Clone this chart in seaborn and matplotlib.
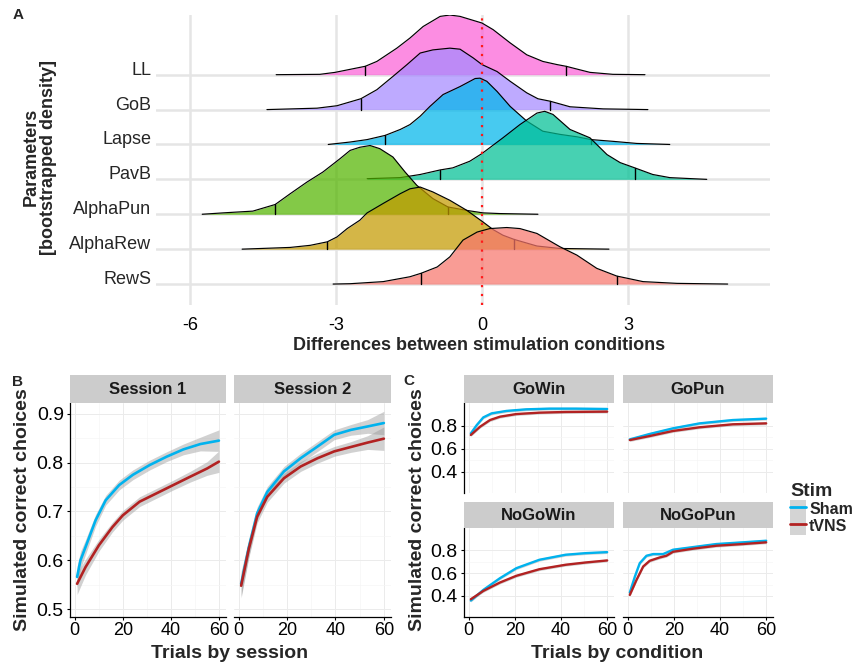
import numpy as np
import pandas as pd
import matplotlib
matplotlib.use('Agg')
import matplotlib.pyplot as plt
import matplotlib.transforms as mtransforms
from matplotlib.patches import Patch
from matplotlib.lines import Line2D
import seaborn as sns

sns.set_theme(style='white')
plt.rcParams['font.family'] = ['Liberation Sans', 'DejaVu Sans']
plt.rcParams['axes.unicode_minus'] = False

# ---- panel A: bootstrapped densities (ridge heights) ----
params = ['RewS', 'AlphaRew', 'AlphaPun', 'PavB', 'Lapse', 'GoB', 'LL']
ridge_colors = ['#F8766D', '#C49A00', '#53B400', '#00C094', '#00B6EB', '#A58AFF', '#FB61D7']

rews_x = [-3.06, -2.71, -2.03, -1.48, -1.25, -0.92, -0.66, -0.39, -0.10, 0.16, 0.51, 0.78, 1.13, 1.60, 1.95, 2.36, 2.77, 3.31, 4.01, 5.05]
rews_h = [0, 0.01, 0.07, 0.21, 0.31, 0.49, 0.78, 1.26, 1.49, 1.59, 1.62, 1.59, 1.45, 1.07, 0.83, 0.45, 0.23, 0.07, 0.02, 0]
alpharew_x = [-4.93, -3.94, -3.53, -3.18, -2.98, -2.77, -2.51, -2.36, -2.03, -1.68, -1.48, -1.27, -1.01, -0.66, -0.31, 0.02, 0.23, 0.43, 0.66, 1.13, 1.60, 2.61]
alpharew_h = [0, 0.05, 0.11, 0.21, 0.35, 0.59, 0.83, 1.04, 1.31, 1.59, 1.73, 1.78, 1.64, 1.40, 1.11, 0.78, 0.56, 0.40, 0.28, 0.09, 0.02, 0]
alphapun_x = [-5.75, -5.32, -4.71, -4.25, -3.94, -3.60, -3.27, -2.92, -2.71, -2.51, -2.30, -2.10, -1.83, -1.58, -1.34, -1.01, -0.70, -0.31, 0.02, 0.37, 1.15]
alphapun_h = [0, 0.04, 0.09, 0.28, 0.59, 0.92, 1.21, 1.59, 1.83, 1.92, 1.97, 1.88, 1.64, 1.21, 0.83, 0.45, 0.21, 0.11, 0.04, 0.02, 0]
pavb_x = [-2.36, -1.68, -1.27, -0.86, -0.60, -0.25, 0.0, 0.43, 0.78, 1.13, 1.29, 1.46, 1.81, 2.22, 2.57, 2.84, 3.14, 3.51, 3.86, 4.62]
pavb_h = [0.02, 0.05, 0.14, 0.27, 0.33, 0.52, 0.74, 1.19, 1.57, 1.90, 1.95, 1.86, 1.43, 1.19, 0.71, 0.48, 0.33, 0.14, 0.05, 0]
lapse_x = [-3.16, -2.71, -2.36, -1.99, -1.68, -1.48, -1.27, -1.07, -0.80, -0.45, -0.14, -0.04, 0.10, 0.31, 0.58, 0.92, 1.25, 1.60, 1.95, 2.24, 2.69, 3.18, 3.86]
lapse_h = [0, 0.07, 0.14, 0.26, 0.43, 0.57, 0.81, 1.09, 1.43, 1.66, 1.89, 1.90, 1.81, 1.52, 1.09, 0.67, 0.38, 0.29, 0.22, 0.14, 0.09, 0.03, 0]
gob_x = [-4.42, -3.39, -2.98, -2.49, -2.16, -1.83, -1.54, -1.27, -1.01, -0.66, -0.45, -0.18, 0.0, 0.31, 0.58, 0.92, 1.15, 1.40, 1.81, 2.49, 3.41]
gob_h = [0, 0.04, 0.11, 0.31, 0.57, 0.95, 1.29, 1.62, 1.71, 1.76, 1.73, 1.48, 1.29, 1.09, 0.81, 0.48, 0.31, 0.24, 0.08, 0.02, 0]
ll_x = [-4.23, -3.33, -3.02, -2.40, -2.16, -1.75, -1.48, -1.21, -0.86, -0.66, -0.45, 0.0, 0.23, 0.58, 0.92, 1.25, 1.54, 1.73, 2.01, 2.22, 2.69, 3.35]
ll_h = [0, 0.01, 0.066, 0.24, 0.38, 0.76, 1.05, 1.38, 1.67, 1.71, 1.67, 1.48, 1.29, 0.91, 0.57, 0.38, 0.29, 0.24, 0.14, 0.066, 0.01, 0]

q_low = [-1.25, -3.18, -4.25, -0.86, -1.99, -2.49, -2.40]
q_high = [2.77, 0.66, -0.70, 3.14, 2.24, 1.40, 1.73]

# ---- panel B: simulated correct choices by session ----
s1_sham_x = [1, 2.4, 4.5, 8.7, 12.9, 18.5, 24.2, 31.2, 38.2, 45.2, 52.3, 60]
s1_sham_y = [0.566, 0.600, 0.627, 0.682, 0.723, 0.754, 0.775, 0.795, 0.812, 0.827, 0.838, 0.845]
s1_sham_ci = [0.022, 0.018, 0.015, 0.012, 0.010, 0.010, 0.010, 0.010, 0.010, 0.011, 0.014, 0.022]
s1_tvns_x = [1, 4.5, 10.1, 15.7, 20, 27, 34, 41, 48, 55.1, 60]
s1_tvns_y = [0.552, 0.586, 0.631, 0.668, 0.692, 0.720, 0.737, 0.754, 0.771, 0.788, 0.802]
s1_tvns_ci = [0.022, 0.016, 0.012, 0.010, 0.010, 0.010, 0.010, 0.010, 0.011, 0.014, 0.022]
s2_x = [1, 4.2, 7.6, 11.8, 18.7, 25.6, 32.6, 39.5, 46.4, 53.3, 60]
s2_sham_y = [0.552, 0.627, 0.696, 0.740, 0.782, 0.809, 0.833, 0.857, 0.867, 0.874, 0.881]
s2_tvns_y = [0.548, 0.624, 0.689, 0.730, 0.768, 0.792, 0.809, 0.823, 0.832, 0.841, 0.849]
s2_ci = [0.025, 0.018, 0.013, 0.011, 0.010, 0.010, 0.010, 0.010, 0.011, 0.014, 0.024]

# ---- panel C: by condition ----
gowin_sham_x = [1, 3.6, 6.4, 10, 16.4, 25, 35, 46.4, 60]
gowin_sham_y = [0.733, 0.806, 0.872, 0.907, 0.928, 0.942, 0.948, 0.948, 0.945]
gowin_tvns_x = [1, 5, 9.3, 13.6, 20.7, 30.7, 42, 60]
gowin_tvns_y = [0.719, 0.791, 0.849, 0.878, 0.901, 0.913, 0.919, 0.922]
gopun_x = [1, 9.6, 19.7, 31.2, 45.6, 60]
gopun_sham_y = [0.681, 0.728, 0.777, 0.820, 0.849, 0.861]
gopun_tvns_y = [0.675, 0.710, 0.754, 0.786, 0.812, 0.820]
nogowin_x = [1, 6.4, 13.6, 20.7, 30.7, 42, 50.7, 60]
nogowin_sham_y = [0.359, 0.453, 0.556, 0.644, 0.718, 0.762, 0.776, 0.785]
nogowin_tvns_y = [0.371, 0.444, 0.518, 0.577, 0.635, 0.674, 0.694, 0.712]
nogopun_sham_x = [1, 3.2, 5.3, 8.2, 11.1, 15.4, 19.7, 28.3, 38.4, 49.9, 60]
nogopun_sham_y = [0.430, 0.571, 0.688, 0.753, 0.768, 0.768, 0.806, 0.829, 0.856, 0.871, 0.885]
nogopun_tvns_x = [1, 3.9, 6.8, 9.6, 13.9, 16.8, 19.7, 28.3, 38.4, 49.9, 60]
nogopun_tvns_y = [0.409, 0.541, 0.659, 0.709, 0.738, 0.753, 0.788, 0.815, 0.841, 0.856, 0.871]
c_ci = 0.012

stim_colors = {'Sham': '#00B2EE', 'tVNS': '#B22222'}

W, H = 856, 664
fig = plt.figure(figsize=(W / 100, H / 100), dpi=100)


def box(l, t, r, b):
    return [l / W, 1 - b / H, (r - l) / W, (b - t) / H]


# ================= panel A =================
axA = fig.add_axes(box(156, 15, 770, 305))
axA.set_xlim(-6.70, 5.92)
axA.set_ylim(0.4, 8.71)
for s in axA.spines.values():
    s.set_visible(False)
axA.set_xticks([-6, -3, 0, 3])
axA.set_yticks([])
axA.tick_params(axis='x', length=0, pad=9, labelsize=13, labelcolor='black')
for xv in [-6, -3, 0, 3]:
    axA.axvline(xv, color='#E5E5E5', lw=1.8, zorder=0)
for i in range(len(params)):
    axA.axhline(i + 1, color='#E5E5E5', lw=1.8, zorder=0)

ridges = [(rews_x, rews_h), (alpharew_x, alpharew_h), (alphapun_x, alphapun_h),
          (pavb_x, pavb_h), (lapse_x, lapse_h), (gob_x, gob_h), (ll_x, ll_h)]
ylab_tr = mtransforms.blended_transform_factory(axA.transAxes, axA.transData)
for i, (name, (xs, hs), col, lo, hi) in enumerate(zip(params, ridges, ridge_colors, q_low, q_high)):
    base = i + 1
    z = 20 - i
    xs = np.array(xs)
    ys = base + np.array(hs)
    axA.fill_between(xs, base, ys, color=col, alpha=0.72, lw=0, zorder=z)
    sns.lineplot(x=xs, y=ys, ax=axA, color='black', lw=0.85, zorder=z)
    for q in (lo, hi):
        axA.plot([q, q], [base, base + np.interp(q, xs, hs)], color='black', lw=1.0, zorder=z)
    axA.text(-0.008, base, name, transform=ylab_tr, ha='right', va='baseline', fontsize=13)

axA.axvline(0, color='#FF1A1A', lw=1.6, ls=(0, (1, 3)), zorder=50)
fig.text(479 / W, 1 - 345 / H, 'Differences between stimulation conditions',
         ha='center', va='center', fontsize=13, fontweight='bold')
fig.text(40 / W, 1 - 157 / H, 'Parameters\n[bootstrapped density]', rotation=90,
         ha='center', va='center', fontsize=13, fontweight='bold', linespacing=1.0,
         multialignment='center')


# ================= helpers for B / C =================
def style_panel(ax, xlim, ylim, yticks, left_axis, bottom_axis, ylabsize):
    ax.set_xlim(*xlim)
    ax.set_ylim(*ylim)
    ax.set_xticks([0, 20, 40, 60])
    ax.set_xticks([10, 30, 50], minor=True)
    ax.set_yticks(yticks)
    ax.set_yticks([(a + b) / 2 for a, b in zip(yticks[:-1], yticks[1:])], minor=True)
    ax.grid(True, which='major', color='#EBEBEB', lw=0.7)
    ax.grid(True, which='minor', color='#F5F5F5', lw=0.5)
    ax.set_axisbelow(True)
    for s in ax.spines.values():
        s.set_visible(False)
    ax.spines['left'].set_visible(left_axis)
    ax.spines['bottom'].set_visible(bottom_axis)
    for s in ('left', 'bottom'):
        ax.spines[s].set_color('black')
        ax.spines[s].set_linewidth(0.9)
    ax.tick_params(axis='y', which='major', left=left_axis, labelleft=left_axis,
                   length=2.5, width=0.8, color='black', labelsize=ylabsize, pad=2, labelcolor='black')
    ax.tick_params(axis='x', which='major', bottom=bottom_axis, labelbottom=bottom_axis,
                   length=2.5, width=0.8, color='black', labelsize=13, pad=1, labelcolor='black')
    ax.tick_params(which='minor', length=0)
    ax.set_xlabel('')
    ax.set_ylabel('')


def strip(l, t, r, b, label):
    sa = fig.add_axes(box(l, t, r, b))
    sa.set_facecolor('#CCCCCC')
    sa.set_xticks([])
    sa.set_yticks([])
    for s in sa.spines.values():
        s.set_visible(False)
    sa.text(0.5, 0.48, label, ha='center', va='center', fontsize=12, fontweight='bold',
            color='#1A1A1A', transform=sa.transAxes)


def draw_curves(ax, curves, lw):
    rows = []
    for stim, xs, ys, ci in curves:
        xs = np.array(xs)
        ys = np.array(ys)
        ci = np.broadcast_to(np.array(ci, dtype=float), xs.shape)
        ax.fill_between(xs, ys - ci, ys + ci, color='#999999', alpha=0.45, lw=0, zorder=2)
        rows.append(pd.DataFrame({'trial': xs, 'acc': ys, 'stim': stim}))
    df = pd.concat(rows, ignore_index=True)
    sns.lineplot(data=df, x='trial', y='acc', hue='stim', palette=stim_colors,
                 ax=ax, lw=lw, legend=False, zorder=3, errorbar=None)


# ================= panel B =================
b_xlim = (-1.95, 62.95)
b_ylim = (0.484, 0.922)
b_ticks = [0.5, 0.6, 0.7, 0.8, 0.9]

axB1 = fig.add_axes(box(70, 403, 226, 617))
draw_curves(axB1, [('Sham', s1_sham_x, s1_sham_y, s1_sham_ci),
                   ('tVNS', s1_tvns_x, s1_tvns_y, s1_tvns_ci)], 1.9)
style_panel(axB1, b_xlim, b_ylim, b_ticks, True, True, 14)
strip(70, 375, 226, 403, 'Session 1')

axB2 = fig.add_axes(box(234, 403, 391, 617))
draw_curves(axB2, [('Sham', s2_x, s2_sham_y, s2_ci), ('tVNS', s2_x, s2_tvns_y, s2_ci)], 1.9)
style_panel(axB2, b_xlim, b_ylim, b_ticks, False, True, 14)
strip(234, 375, 391, 403, 'Session 2')

fig.text(23 / W, 1 - 510 / H, 'Simulated correct choices', rotation=90, ha='center', va='center',
         fontsize=14, fontweight='bold')
fig.text(230 / W, 1 - 653 / H, 'Trials by session', ha='center', va='center',
         fontsize=14, fontweight='bold')

# ================= panel C =================
c_ylim = (0.215, 0.997)
c_ticks = [0.4, 0.6, 0.8]
c_panels = [
    ('GoWin', (464, 403, 614, 493), (464, 375, 614, 403), True, False,
     [('Sham', gowin_sham_x, gowin_sham_y, c_ci), ('tVNS', gowin_tvns_x, gowin_tvns_y, c_ci)]),
    ('GoPun', (623, 403, 773, 493), (623, 375, 773, 403), False, False,
     [('Sham', gopun_x, gopun_sham_y, c_ci), ('tVNS', gopun_x, gopun_tvns_y, c_ci)]),
    ('NoGoWin', (464, 528, 614, 617), (464, 502, 614, 528), True, True,
     [('Sham', nogowin_x, nogowin_sham_y, c_ci), ('tVNS', nogowin_x, nogowin_tvns_y, c_ci)]),
    ('NoGoPun', (623, 528, 773, 617), (623, 502, 773, 528), False, True,
     [('Sham', nogopun_sham_x, nogopun_sham_y, c_ci), ('tVNS', nogopun_tvns_x, nogopun_tvns_y, c_ci)]),
]
for name, pbox, sbox, la, ba, curves in c_panels:
    ax = fig.add_axes(box(*pbox))
    draw_curves(ax, curves, 1.7)
    style_panel(ax, b_xlim, c_ylim, c_ticks, la, ba, 14)
    strip(*sbox, name)

fig.text(418 / W, 1 - 510 / H, 'Simulated correct choices', rotation=90, ha='center', va='center',
         fontsize=14, fontweight='bold')
fig.text(617 / W, 1 - 653 / H, 'Trials by condition', ha='center', va='center',
         fontsize=14, fontweight='bold')

# legend
handles = [(Patch(facecolor='#D4D4D4', edgecolor='none'), Line2D([], [], color=stim_colors[k], lw=2))
           for k in ['Sham', 'tVNS']]
leg = fig.legend(handles, ['Sham', 'tVNS'], title='Stim', loc='upper left',
                 bbox_to_anchor=(790 / W, 1 - 483 / H), frameon=False,
                 handlelength=1.0, handleheight=1.3, handletextpad=0.2, labelspacing=0.0,
                 borderpad=0, borderaxespad=0, prop={'weight': 'bold', 'size': 11.5},
                 title_fontproperties={'weight': 'bold', 'size': 14})
leg._legend_box.align = 'left'

# panel letters
fig.text(13 / W, 1 - 15 / H, 'A', fontsize=11, fontweight='bold', va='center')
fig.text(12 / W, 1 - 382 / H, 'B', fontsize=11, fontweight='bold', va='center')
fig.text(403 / W, 1 - 381 / H, 'C', fontsize=11, fontweight='bold', va='center')

fig.savefig('out.png', dpi=100)
